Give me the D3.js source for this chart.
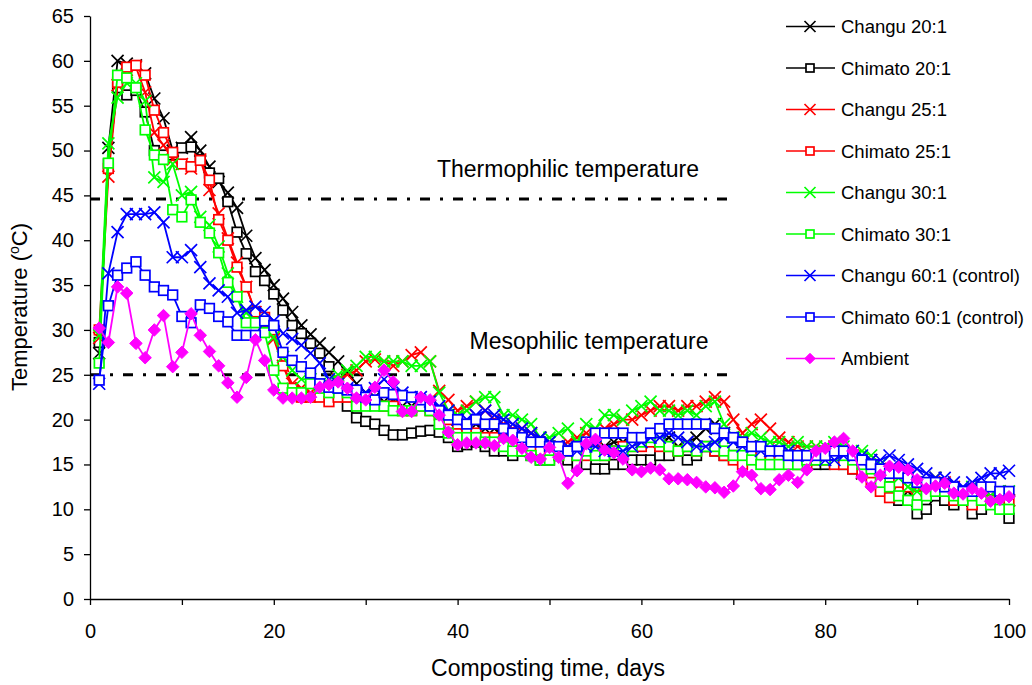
<!DOCTYPE html>
<html>
<head>
<meta charset="utf-8">
<script src="https://cdn.jsdelivr.net/npm/d3@7/dist/d3.min.js"></script>
<style>
  body { margin: 0; background: #fff; }
  svg { display: block; font-family: "Liberation Sans", Arial, sans-serif; }
</style>
</head>
<body>
<svg id="chart" width="1032" height="685"></svg>
<script>
// temperatures, days 1..100
const changu20 = [27.4,50.3,60,59.7,59.5,58.6,55.8,53.6,50,50.3,
  51.5,50,48.2,46.5,45.3,43.6,40.5,38,36.7,35,
  33.5,32,30.5,29.5,28.5,27.5,26.5,25.3,24,23,
  22.5,22,22,21.5,21.5,21.5,21.5,21,20.5,20,
  19.5,19.5,19,19,18.5,18,18,17.5,17,17,
  16.5,17,16.5,17,17,17,17.5,17.5,17,17.5,
  18,17.5,18,17,17.5,18,19,19.5,18.5,18,
  17.5,17,17,16.5,16.5,16,16,16,16,16,
  16.5,16,15.5,14,14,13.5,14,13,12,11,
  11.5,12,12.5,12,11.5,11,11,11.5,11,11];
const chimato20 = [28.6,48.5,57,56.2,56.7,54.3,50,49.5,49.5,50.3,
  50.4,49,47.5,46.9,44.3,40.9,38.5,36.5,35.5,34,
  32.2,30.5,29.6,28.5,27.4,25.9,23.5,21.5,20.2,19.8,
  19.5,18.8,18.3,18.3,18.5,18.7,18.8,18.6,18,17,
  17.2,17.5,17,16.5,16.5,16,16.5,16,15.5,15.5,
  16,15.5,15,15,14.5,14.5,15,15,15.5,15.5,
  15.5,16,16,16.5,15.5,16,17,16.5,16,16,
  15.5,16,15.5,15,15.5,15.5,15,15,15,15,
  15.5,15,14.5,14,14,13,12.5,11,11,9.5,
  10,11.5,11,10.5,11,9.5,10,11,11,9];
const changu25 = [29.1,47.1,57.3,59,59.3,56.5,52,50.6,49,48.5,
  48,49,45.6,43,40.2,37.5,34.8,32,30.5,29,
  26,24,23.5,23,23,23.5,24.5,25,25.5,26.5,
  26.7,26.5,26,26.5,27.2,27.5,26.5,23.2,22.2,21,
  21.5,22,21,20,19.5,19,19,18.5,18,17.5,
  17,17.5,18,18.5,18,19,19.5,20,20,20.5,
  21,21.5,21.5,21,21.5,21.5,22,22.5,22,20,
  18.5,19.5,20,19,18,17.5,17,17,17,16.5,
  17,16.5,16,15.5,15.5,14.5,14,13.5,13,12.5,
  13,13.5,13,12.5,12,12,11,11.5,12,11];
const chimato25 = [30,48,57.6,59.3,59.5,58.4,54.5,52,49.8,48.5,
  48.2,48.9,46.7,42.3,40,37,34.8,32,31.4,30,
  26,23.5,22.5,22.5,22.5,22,22.5,22.5,22,22,
  22,21.5,21.5,21,21,21.5,21,20.5,20,19.5,
  19,18.5,18,18,17.5,17.5,17,17,16.5,16.5,
  16,16.5,16,16,16.5,16,16.5,17,17,17,
  17.5,17,17,16.5,17,16.5,17,16.5,16,15.5,
  15,16,16,15.5,15.5,15.5,15,15,15.5,15.5,
  15,15,14.5,14,13,12,11.3,13,12.5,11.5,
  12,12,12.5,11,11,10.5,11.5,11,11,11];
const changu30 = [29.4,50.8,55.9,57.5,57.5,55.5,47,46.5,48.5,45,
  45.4,42.6,41.7,39.3,36.3,33.7,31.9,31,30,29.2,
  27,25.5,24.5,24.5,24,24.5,25,25.5,26,27,
  27,26.5,26.5,26.5,26,26,26.5,23,21,20.5,
  21,22,22.5,22.5,20.5,20.5,20,19.5,18,18,
  18.5,19,17.5,19.5,19,20.5,20.5,20,21,21.5,
  22,21,21,20.5,21,20.5,21.5,22,19.5,18,
  18,18.5,18,17.5,17.5,17,17.5,17,17,17,
  17.5,17,16.5,16.5,16,15,14,13.5,12.5,12,
  13,13.5,12.5,12,12,12.5,12,11.5,12,12];
const chimato30 = [26.3,48.6,58.4,58.1,57,52.3,49.5,49,43.4,42.6,
  44.5,42,40.8,38.6,35.3,33.7,30.8,30.8,29.7,25.5,
  23.5,23,23,24,23.5,23,23.5,23,21.5,21.5,
  21.5,21.5,21,21,21,21.5,21,19.5,18.5,18,
  18,18,17.5,17.5,17,16.5,16.5,16,15.5,15.5,
  16,16.5,16,16.5,16,16,16.5,16.5,17,17.5,
  18,17.5,17,16.5,17,16.5,17,17,16.5,16,
  16,15.5,15,15,15,15,15,15.5,15.5,15.5,
  16,16,15.5,15,14.5,13,12.5,11.5,11,10.5,
  11.5,12,12,11.5,11,11.5,11,10.5,10,10];
const changu60 = [24,36.3,40.9,42.9,42.9,42.9,43.1,42,38.1,38.1,
  38.9,37,35.2,34.4,33.7,31.9,32.2,32.6,32,31,
  29.6,29,28.3,27.4,26.3,24.5,24,23.5,23,23,
  23.5,24.5,23.5,23,22.5,22.5,22,21.5,21,20,
  20,20.5,21,20.5,20,19.5,19,18.5,18,17.5,
  17,17,16.5,17,17,16.5,16.5,16.5,17,17.5,
  18,18,18.5,18,17.5,17,17,17.5,18,17.5,
  17,17,16.5,16.5,16.5,16.5,16,16,16,15.5,
  15.5,16,16.5,16,15.5,15.5,16,15.5,15,14.5,
  14,13.5,13.5,13,12.5,13,13.5,14,14,14.3];
const chimato60 = [24.4,32.7,36.1,36.9,37.6,36.1,34.8,34.4,33.9,31.5,
  30.8,32.8,32.4,31.5,30.9,29.4,29.4,29.4,31,30.5,
  27.5,26.6,25.9,25.2,24,23.6,23.5,23.3,23.3,22.5,
  22.2,23,22.8,22.7,22.5,22.2,21.5,21,20.5,20,
  19.5,20,19.5,19.5,19,18.5,18,17.5,17.5,17,
  17,16.5,17,17.5,18.5,18.5,18.5,18.5,18,18,
  18.5,19,19.5,19.5,19.5,19.5,19.5,19,18.5,18,
  17.5,17,17,16.5,16.5,16,16,16,16,16,
  16.5,16.5,16,15.5,15,14.5,14,14,13.5,13,
  13,13,12.5,12.5,12,12,12.5,12.5,12,12];
const ambient = [30.2,28.6,34.8,34.1,28.5,26.9,30,31.6,25.9,27.5,
  31.8,29.4,27.6,26,24.1,22.5,24.7,28.9,26.6,23.3,
  22.4,22.4,22.4,22.5,23.6,23.9,24.2,23.5,22.4,22.2,
  23.6,25.5,24.2,20.9,20.9,22.5,22.2,20.5,18.6,17.2,
  17.4,17.4,17.4,17.1,17.9,17.7,16.8,15.8,15.6,16.9,
  15.8,12.9,14.3,17.3,17.8,16.6,16.3,15.6,14.4,14.2,
  14.6,14.4,13.4,13.4,13.3,13,12.5,12.4,11.9,12.6,
  14.2,13.8,12.3,12.2,13.3,13.8,13,14.4,16.5,16.8,
  17.5,17.9,16.5,13.6,12.5,13.8,14.8,14.7,14.4,13.3,
  12.3,12.6,12.9,11.8,11.7,12.3,11.8,10.9,11.1,11.4];

const seriesNames = ["Changu 20:1", "Chimato 20:1", "Changu 25:1", "Chimato 25:1",
  "Changu 30:1", "Chimato 30:1", "Changu 60:1 (control)", "Chimato 60:1 (control)", "Ambient"];
const seriesData = [changu20, chimato20, changu25, chimato25, changu30, chimato30, changu60, chimato60, ambient];
const seriesColors = ["#000000", "#000000", "#ff0000", "#ff0000", "#00ff00", "#00ff00", "#0000ff", "#0000ff", "#ff00ff"];
const seriesMarkers = ["x", "square", "x", "square", "x", "square", "x", "square", "diamond"];

const xTicks = [0, 10, 20, 30, 40, 50, 60, 70, 80, 90, 100];
const yTicks = [0, 5, 10, 15, 20, 25, 30, 35, 40, 45, 50, 55, 60, 65];

const thermoLevel = 44.6, mesoLevel = 25, limitEnd = 70;

const svg = d3.select("#chart");
const x = d3.scaleLinear().domain([0, 100]).range([90, 1009]);
const y = d3.scaleLinear().domain([0, 65]).range([599, 16]);

// axes
svg.append("g")
  .attr("transform", "translate(90,0)")
  .call(d3.axisLeft(y).tickValues(yTicks).tickSize(6).tickSizeOuter(0).tickPadding(10));
svg.append("g")
  .attr("transform", "translate(0,599)")
  .call(d3.axisBottom(x).tickValues(xTicks).tickSize(6).tickSizeOuter(0).tickPadding(19)
    .tickFormat(d => d % 20 === 0 ? d : ""));
svg.selectAll(".domain, .tick line").attr("stroke", "#000").attr("stroke-width", 1.3);
svg.selectAll(".tick text").attr("font-size", 20).attr("fill", "#000")
  .style("font-family", '"Liberation Sans", Arial, sans-serif');

// threshold lines
const limits = [
  {v: thermoLevel, label: "Thermophilic temperature", lx: 568, ly: 177},
  {v: mesoLevel, label: "Mesophilic temperature", lx: 589, ly: 349}
];
limits.forEach(l => {
  svg.append("line")
    .attr("x1", x(0)).attr("x2", x(limitEnd))
    .attr("y1", y(l.v)).attr("y2", y(l.v))
    .attr("stroke", "#000").attr("stroke-width", 3)
    .attr("stroke-dasharray", "10,10,3,10");
  svg.append("text").attr("x", l.lx).attr("y", l.ly)
    .attr("text-anchor", "middle").attr("font-size", 23).text(l.label);
});

function drawMarker(g, type, color, size) {
  if (type === "x") {
    g.append("path").attr("d", `M${-size},${-size}L${size},${size}M${-size},${size}L${size},${-size}`)
      .attr("stroke", color).attr("stroke-width", 1.7).attr("fill", "none");
  } else if (type === "square") {
    g.append("rect").attr("x", -size).attr("y", -size).attr("width", 2 * size).attr("height", 2 * size)
      .attr("stroke", color).attr("stroke-width", 1.7).attr("fill", "#fff");
  } else {
    const s = size * 1.3;
    g.append("path").attr("d", `M0,${-s}L${s},0L0,${s}L${-s},0Z`)
      .attr("fill", color).attr("stroke", color).attr("stroke-width", 1);
  }
}

const line = d3.line().x((d, i) => x(i + 1)).y(d => y(d));

seriesData.forEach((vals, si) => {
  const g = svg.append("g");
  g.append("path").datum(vals).attr("d", line)
    .attr("fill", "none").attr("stroke", seriesColors[si]).attr("stroke-width", 1.8);
  g.selectAll("g.m").data(vals).enter().append("g")
    .attr("transform", (d, i) => `translate(${x(i + 1)},${y(d)})`)
    .each(function () { drawMarker(d3.select(this), seriesMarkers[si], seriesColors[si], seriesMarkers[si] === "x" ? 6 : 4.8); });
});

// legend
seriesNames.forEach((name, i) => {
  const ly = 26.5 + i * 41.5;
  const g = svg.append("g").attr("transform", `translate(786,${ly})`);
  g.append("line").attr("x1", 0).attr("x2", 49).attr("y1", 0).attr("y2", 0)
    .attr("stroke", seriesColors[i]).attr("stroke-width", 1.7);
  const m = g.append("g").attr("transform", "translate(24,0)");
  drawMarker(m, seriesMarkers[i], seriesColors[i], seriesMarkers[i] === "x" ? 5.5 : 4);
  g.append("text").attr("x", 55).attr("y", 6.5).attr("font-size", 18.5).text(name);
});

// axis titles
svg.append("text").attr("x", 548).attr("y", 676).attr("text-anchor", "middle")
  .attr("font-size", 23).text("Composting time, days");
const yt = svg.append("text").attr("transform", "translate(27,307) rotate(-90)")
  .attr("text-anchor", "middle").attr("font-size", 22);
yt.append("tspan").text("Temperature (");
yt.append("tspan").attr("font-size", 14).attr("dy", -8).text("o");
yt.append("tspan").attr("dy", 8).text("C)");
</script>
</body>
</html>
